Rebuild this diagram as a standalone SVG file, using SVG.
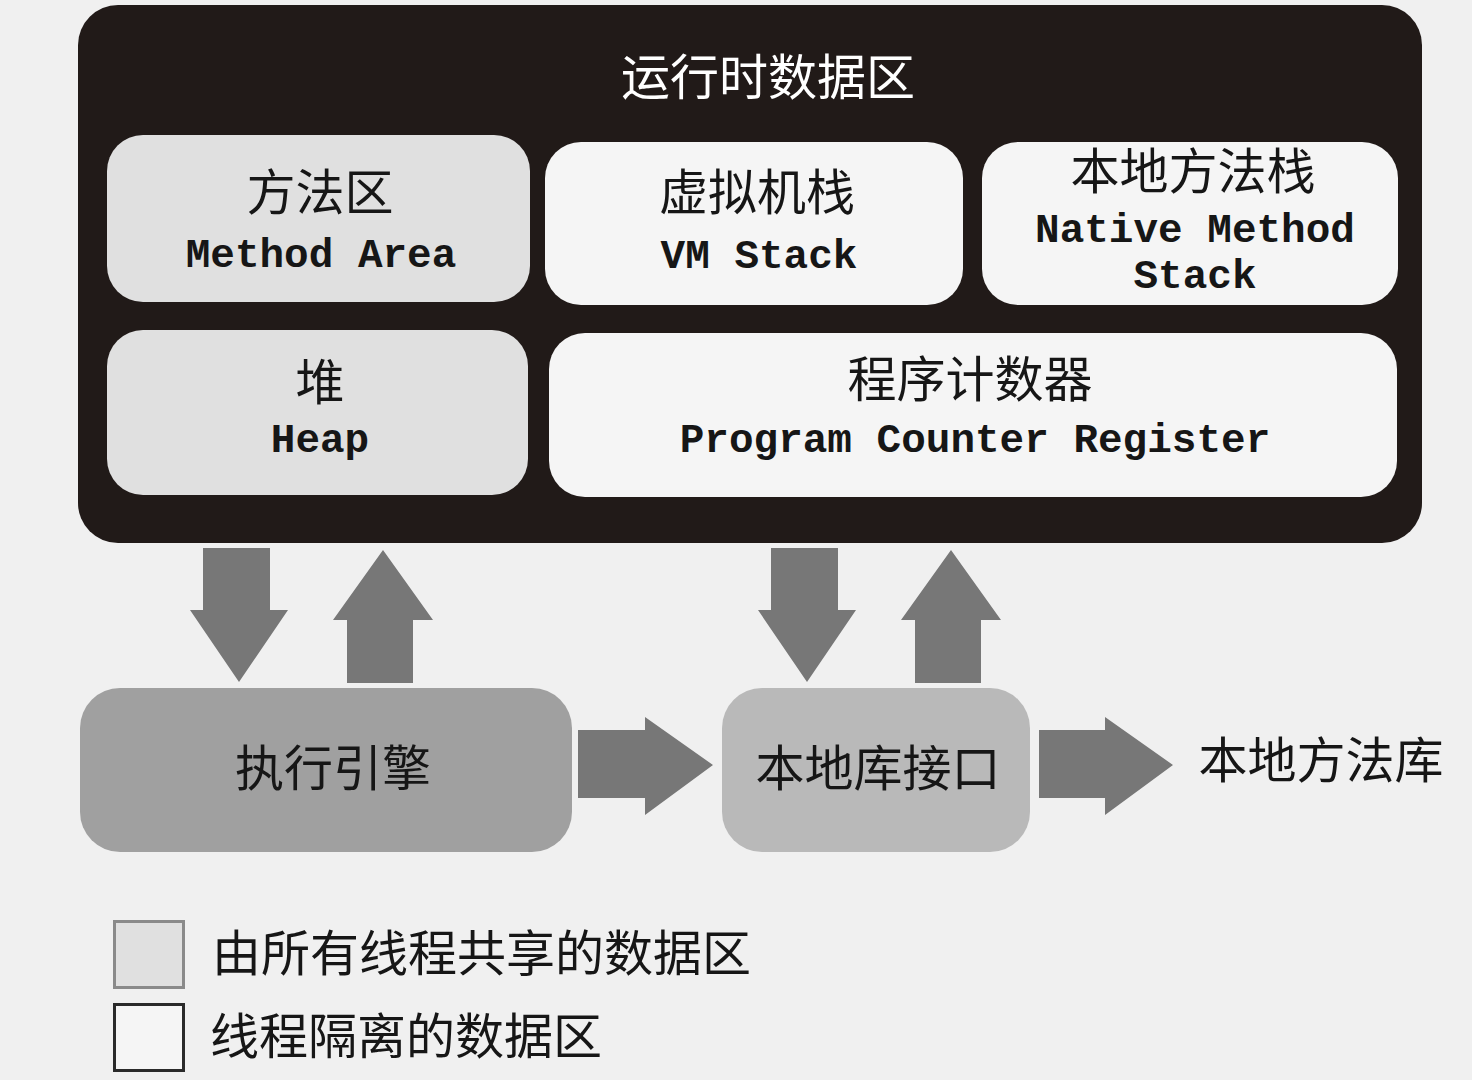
<svg xmlns="http://www.w3.org/2000/svg" width="1472" height="1080" viewBox="0 0 1472 1080">
  <style>
    .cjk { font-family: "Noto Sans CJK SC", sans-serif; font-size: 49px; fill: #161616; }
    .en { font-family: "Liberation Mono", "DejaVu Sans Mono", monospace; font-size: 41px; font-weight: bold; fill: #161616; }
    .mid { text-anchor: middle; }
    .shared { fill: #e0e0e0; }
    .private { fill: #f5f5f5; }
    .arrow { fill: #777777; }
  </style>

  <!-- page background -->
  <rect x="0" y="0" width="1472" height="1080" fill="#f0f0f0"/>

  <!-- runtime data area container -->
  <g id="runtime-data-area">
    <rect x="78" y="5" width="1344" height="538" rx="40" ry="40" fill="#211a18"/>
    <text class="cjk mid" x="768" y="95" style="fill:#ffffff">运行时数据区</text>
  </g>

  <g id="method-area">
    <rect class="shared" x="107" y="135" width="423" height="167" rx="36" ry="36"/>
    <text class="cjk mid" x="320" y="210">方法区</text>
    <text class="en mid" x="321" y="267">Method Area</text>
  </g>

  <g id="vm-stack">
    <rect class="private" x="545" y="142" width="418" height="163" rx="36" ry="36"/>
    <text class="cjk mid" x="757" y="210">虚拟机栈</text>
    <text class="en mid" x="759" y="268">VM Stack</text>
  </g>

  <g id="native-method-stack">
    <rect class="private" x="982" y="142" width="416" height="163" rx="36" ry="36"/>
    <text class="cjk mid" x="1193" y="189">本地方法栈</text>
    <text class="en mid" x="1195" y="242">Native Method</text>
    <text class="en mid" x="1195" y="288">Stack</text>
  </g>

  <g id="heap">
    <rect class="shared" x="107" y="330" width="421" height="165" rx="36" ry="36"/>
    <text class="cjk mid" x="320" y="400">堆</text>
    <text class="en mid" x="320" y="452">Heap</text>
  </g>

  <g id="program-counter-register">
    <rect class="private" x="549" y="333" width="848" height="164" rx="36" ry="36"/>
    <text class="cjk mid" x="970" y="397">程序计数器</text>
    <text class="en mid" x="975" y="452">Program Counter Register</text>
  </g>

  <g id="execution-engine">
    <rect x="80" y="688" width="492" height="164" rx="40" ry="40" fill="#a0a0a0"/>
    <text class="cjk mid" x="333" y="786">执行引擎</text>
  </g>

  <g id="native-interface">
    <rect x="722" y="688" width="308" height="164" rx="40" ry="40" fill="#b9b9b9"/>
    <text class="cjk mid" x="878" y="786">本地库接口</text>
  </g>

  <g id="native-library">
    <text class="cjk mid" x="1321" y="778">本地方法库</text>
  </g>

  <!-- block arrows between the parts -->
  <g id="connectors">
    <!-- runtime data area <-> execution engine -->
    <polygon class="arrow" points="203,548 270,548 270,610 288,610 239,682 190,610 203,610"/>
    <polygon class="arrow" points="347,683 413,683 413,620 433,620 383,550 333,620 347,620"/>
    <!-- runtime data area <-> native interface -->
    <polygon class="arrow" points="771,548 838,548 838,610 856,610 807,682 758,610 771,610"/>
    <polygon class="arrow" points="915,683 981,683 981,620 1001,620 951,550 901,620 915,620"/>
    <!-- execution engine -> native interface -->
    <polygon class="arrow" points="578,730 645,730 645,717 713,765 645,815 645,798 578,798"/>
    <!-- native interface -> native library -->
    <polygon class="arrow" points="1039,730 1105,730 1105,717 1173,765 1105,815 1105,798 1039,798"/>
  </g>

  <!-- legend -->
  <g id="legend-shared">
    <rect x="114.5" y="921.5" width="69" height="66" fill="#e0e0e0" stroke="#8a8a8a" stroke-width="3"/>
    <text class="cjk" x="212" y="971">由所有线程共享的数据区</text>
  </g>
  <g id="legend-private">
    <rect x="114.5" y="1004.5" width="69" height="66" fill="#f5f5f5" stroke="#2a2a2a" stroke-width="3"/>
    <text class="cjk" x="210" y="1054">线程隔离的数据区</text>
  </g>
</svg>
